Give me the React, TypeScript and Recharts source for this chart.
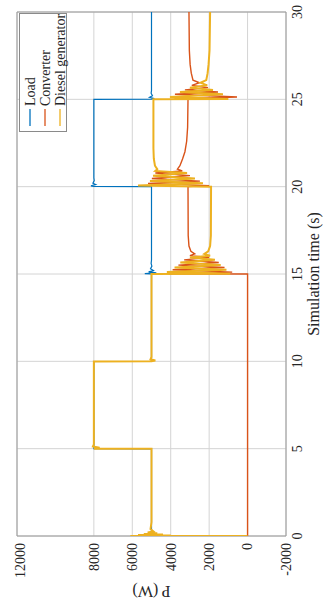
import React from "react";
import { ScatterChart, Scatter, XAxis, YAxis, CartesianGrid, ReferenceLine } from "recharts";

// time ticks (s) and power ticks (W)
const TIME_TICKS = [0, 5, 10, 15, 20, 25, 30];
const POWER_TICKS = [-2000, 0, 2000, 4000, 6000, 8000, 10000, 12000];

// [time (s), power (W)]
const loadSeries: [number, number][] = [
  [0, 5000], [4.99, 5000], [5.0, 8000], [9.99, 8000], [10.0, 5000], [14.99, 5000],
  [15.0, 5000], [15.02, 5350], [15.06, 4750], [15.12, 5150], [15.2, 4900], [15.3, 5050],
  [15.45, 4980], [15.6, 5020], [15.8, 5000], [19.99, 5000],
  [20.0, 5000], [20.01, 8000], [20.05, 8150], [20.12, 7900], [20.2, 8050], [20.35, 7980],
  [20.5, 8000], [24.99, 8000],
  [25.0, 8000], [25.01, 5000], [25.05, 4850], [25.12, 5100], [25.2, 4950], [25.35, 5020],
  [25.5, 5000], [30, 5000],
];

const converterSeries: [number, number][] = [
  [0, 0], [15.0, 0],
  [15.01, 4100], [15.11, 800], [15.24, 3900], [15.37, 1200], [15.51, 3600], [15.66, 1500],
  [15.81, 3300], [15.95, 2000], [16.05, 3000], [16.15, 2750], [16.3, 2950], [16.6, 3050],
  [17.2, 3090], [19.99, 3100],
  [20.0, 3100], [20.06, 2000], [20.19, 5180], [20.32, 2480], [20.47, 4980], [20.63, 3000],
  [20.78, 4800], [20.9, 3400], [21.0, 3650], [21.2, 3520], [21.6, 3380], [22.0, 3260],
  [22.6, 3170], [23.4, 3120], [24.99, 3100],
  [25.0, 3100], [25.02, 3800], [25.13, 550], [25.29, 3780], [25.42, 1540], [25.54, 3260],
  [25.67, 2060], [25.8, 2900], [25.95, 2500], [26.1, 2840], [26.5, 2930], [27.0, 2990],
  [27.8, 3030], [30, 3050],
];

const dieselSeries: [number, number][] = [
  [0, 0], [0.005, 6100], [0.03, 4000], [0.06, 5700], [0.09, 4400], [0.12, 5400],
  [0.16, 4700], [0.2, 5200], [0.26, 4900], [0.4, 5050], [0.8, 5000], [4.99, 5000],
  [5.0, 8000], [5.05, 7700], [5.12, 8050], [5.25, 8000], [9.99, 8000],
  [10.0, 5000], [10.05, 4800], [10.12, 5050], [10.25, 5000], [14.99, 5000],
  [15.0, 5000], [15.01, 900], [15.11, 4200], [15.24, 1100], [15.37, 3800], [15.51, 1400],
  [15.66, 3500], [15.81, 1700], [15.95, 3000], [16.05, 1950], [16.15, 2250], [16.3, 2050],
  [16.6, 1950], [17.2, 1910], [19.99, 1900],
  [20.0, 1900], [20.06, 5700], [20.19, 2320], [20.32, 5080], [20.47, 2740], [20.63, 4920],
  [20.78, 3150], [20.9, 4800], [21.0, 4700], [21.2, 4820], [21.6, 4880], [22.2, 4900],
  [24.99, 4900],
  [25.0, 4900], [25.02, 1000], [25.13, 4040], [25.29, 1280], [25.42, 3520], [25.54, 1800],
  [25.67, 3000], [25.8, 2100], [25.95, 2450], [26.1, 2150], [26.5, 2080], [27.0, 2030],
  [27.8, 1980], [30, 1950],
];

const SERIES = [
  { name: "Load", color: "#0072BD", width: 1.2, points: loadSeries },
  { name: "Converter", color: "#D95319", width: 1.4, points: converterSeries },
  { name: "Diesel generator", color: "#EDB120", width: 2, points: dieselSeries },
];

const FONT = "'Liberation Serif', 'Times New Roman', serif";
const TEXT_COLOR = "#262626";

const PowerTick = (props: any) => {
  const { x, payload } = props;
  const y = 543;
  return (
    <text
      x={x}
      y={y}
      transform={`rotate(-90, ${x}, ${y})`}
      textAnchor="end"
      dy="0.35em"
      fontFamily={FONT}
      fontSize={14}
      fill={TEXT_COLOR}
    >
      {payload.value}
    </text>
  );
};

const TimeTick = (props: any) => {
  const { y, payload } = props;
  const x = 297;
  return (
    <text
      x={x}
      y={y}
      transform={`rotate(-90, ${x}, ${y})`}
      textAnchor="middle"
      dy="0.35em"
      fontFamily={FONT}
      fontSize={14}
      fill={TEXT_COLOR}
    >
      {payload.value}
    </text>
  );
};

const PowerLabel = (props: any) => {
  const vb = props.viewBox || {};
  const cx = vb.x + vb.width / 2;
  const cy = 592;
  return (
    <text
      x={cx}
      y={cy}
      transform={`rotate(180, ${cx}, ${cy})`}
      textAnchor="middle"
      dy="0.35em"
      fontFamily={FONT}
      fontSize={16}
      fill={TEXT_COLOR}
    >
      P (W)
    </text>
  );
};

const TimeLabel = (props: any) => {
  const vb = props.viewBox || {};
  const cx = 313;
  const cy = vb.y + vb.height / 2;
  return (
    <text
      x={cx}
      y={cy}
      transform={`rotate(-90, ${cx}, ${cy})`}
      textAnchor="middle"
      dy="0.35em"
      fontFamily={FONT}
      fontSize={16}
      fill={TEXT_COLOR}
    >
      Simulation time (s)
    </text>
  );
};

const NoDot = () => <g />;

const LegendBox = () => {
  const cols = [30, 45, 60];
  return (
    <svg
      width={324}
      height={601}
      style={{ position: "absolute", left: 0, top: 0, pointerEvents: "none" }}
    >
      <rect x={19.5} y={13.5} width={47} height={118} fill="#ffffff" stroke="#8a8a8a" strokeWidth={1} />
      {SERIES.map((s, i) => {
        const cx = cols[i];
        const ty = 106;
        return (
          <g key={s.name}>
            <line x1={cx} y1={126} x2={cx} y2={109} stroke={s.color} strokeWidth={1.3} />
            <text
              x={cx}
              y={ty}
              transform={`rotate(-90, ${cx}, ${ty})`}
              textAnchor="start"
              dy="0.35em"
              fontFamily={FONT}
              fontSize={14}
              fill={TEXT_COLOR}
            >
              {s.name}
            </text>
          </g>
        );
      })}
    </svg>
  );
};

export default function App() {
  return (
    <div style={{ position: "absolute", left: 0, top: 0, width: 324, height: 601, background: "#ffffff" }}>
      <ScatterChart width={324} height={601} margin={{ top: 12, right: 0, bottom: 0, left: 17 }}>
        <CartesianGrid stroke="#d4d4d4" strokeWidth={1} />
        <XAxis
          type="number"
          dataKey="p"
          domain={[-2000, 12000]}
          ticks={POWER_TICKS}
          reversed
          height={65}
          stroke="#9a9a9a"
          tickLine={false}
          tick={<PowerTick />}
          label={{ content: <PowerLabel /> }}
          allowDataOverflow
        />
        <YAxis
          type="number"
          dataKey="t"
          domain={[0, 30]}
          ticks={TIME_TICKS}
          orientation="right"
          width={38}
          stroke="#9a9a9a"
          tickLine={false}
          tick={<TimeTick />}
          label={{ content: <TimeLabel /> }}
          allowDataOverflow
        />
        <ReferenceLine y={30} stroke="#9a9a9a" />
        <ReferenceLine x={12000} stroke="#9a9a9a" />
        {SERIES.map((s) => (
          <Scatter
            key={s.name}
            name={s.name}
            data={s.points.map(([t, p]) => ({ t, p }))}
            line={{ stroke: s.color, strokeWidth: s.width }}
            lineType="joint"
            shape={NoDot}
            fill={s.color}
            isAnimationActive={false}
          />
        ))}
      </ScatterChart>
      <LegendBox />
    </div>
  );
}
